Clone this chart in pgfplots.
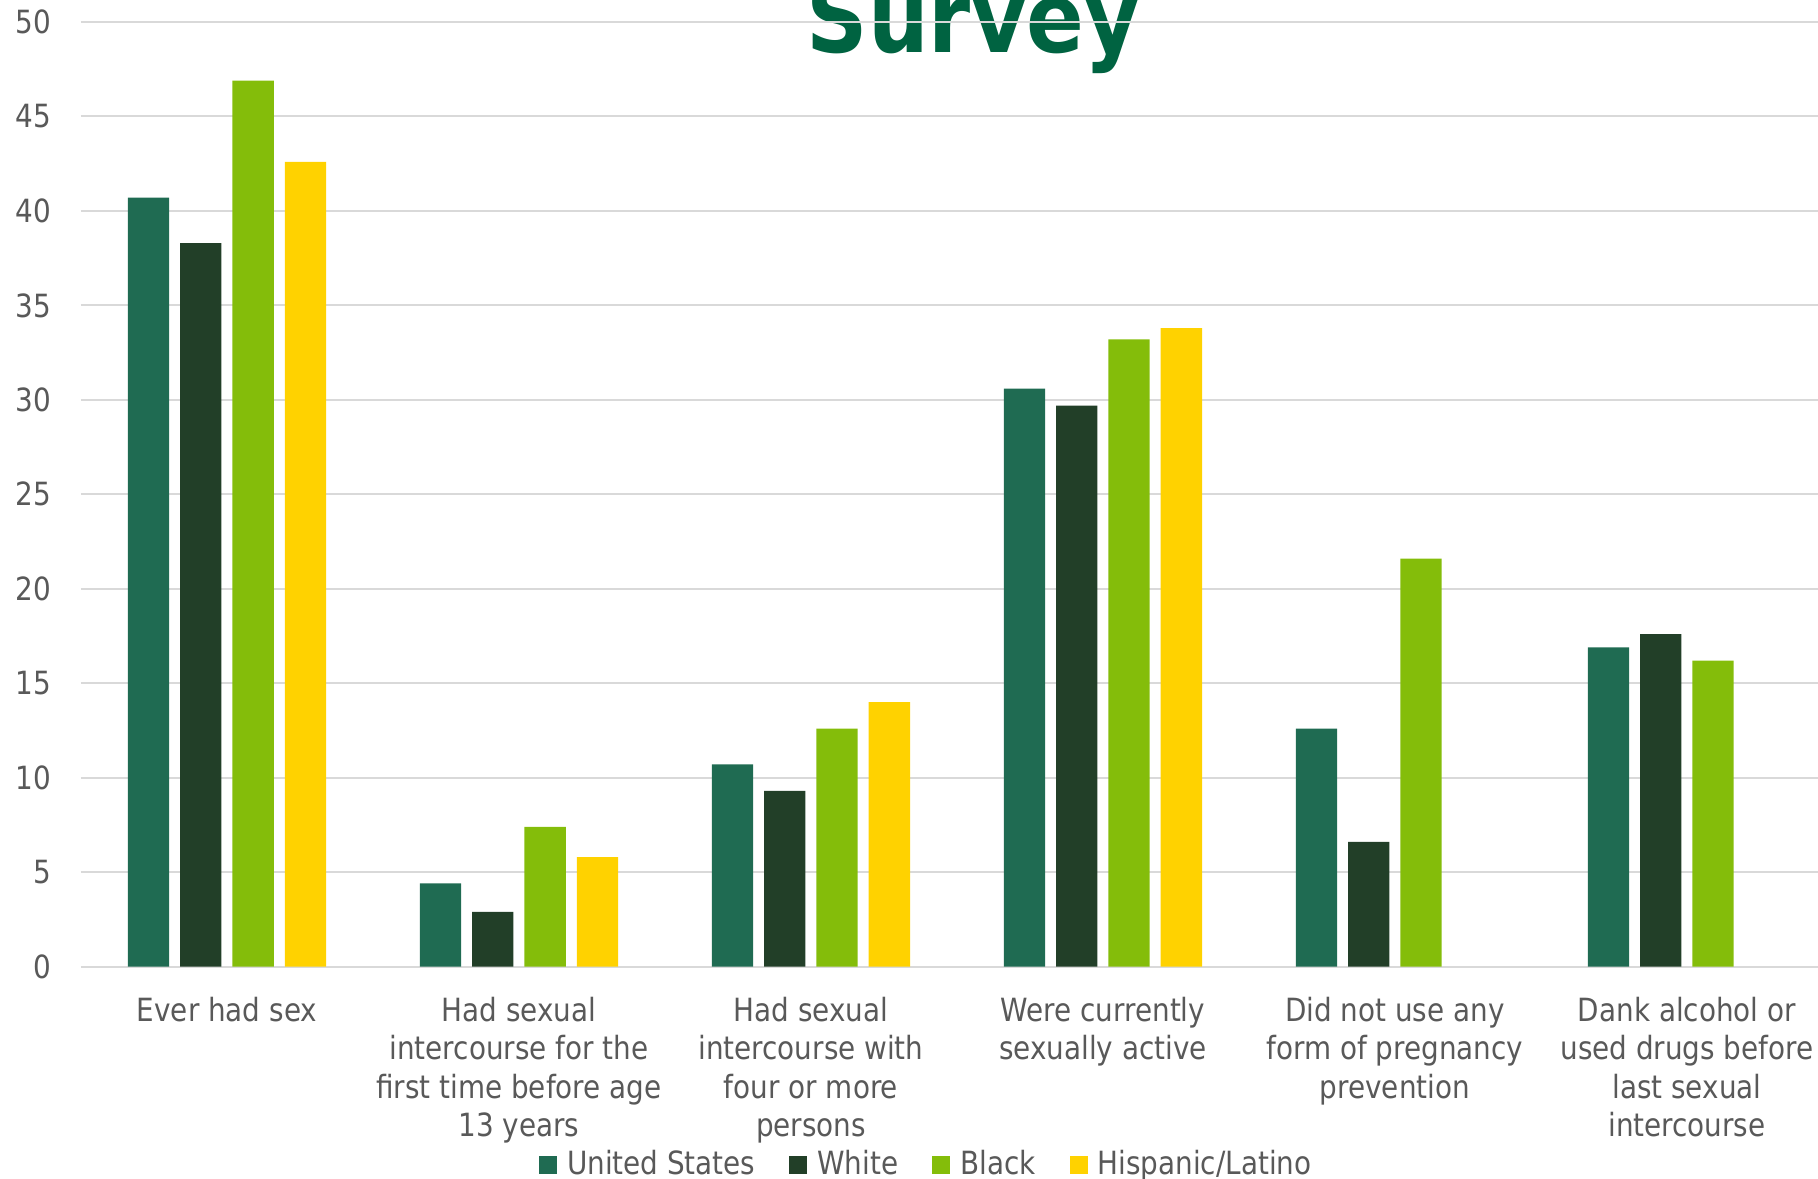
\documentclass[border=0pt]{standalone}
\usepackage{fontspec}
\setmainfont{DejaVu Sans}[FakeStretch=0.87]
\usepackage{pgfplots}
\pgfplotsset{compat=1.18}
\definecolor{cUS}{HTML}{1F6B52}
\definecolor{cWhite}{HTML}{223F28}
\definecolor{cBlack}{HTML}{84BD0A}
\definecolor{cHisp}{HTML}{FFD200}
\definecolor{titlegreen}{HTML}{006341}
\definecolor{gridgray}{HTML}{D9D9D9}
\definecolor{labelgray}{HTML}{595959}
\newcommand{\lblfont}{\fontsize{9.1pt}{10.9pt}\selectfont}
\pgfplotsset{
  sq/.style={fill=#1, draw=none,
    legend image code/.code={\fill[#1] (0cm,-0.09cm) rectangle (0.18cm,0.09cm);}},
}
\begin{document}
\begin{tikzpicture}
\node[anchor=base, text=titlegreen, inner sep=0pt,
      font=\fontsize{27.9pt}{30pt}\selectfont\bfseries] at (8.925cm,9.137cm) {Survey};
\begin{axis}[
  at={(0,0)}, anchor=south west,
  scale only axis, width=17.371cm, height=9.447cm,
  xmin=-0.5, xmax=5.449, ymin=0, ymax=50,
  ybar=0.11cm, bar width=0.413cm,
  axis line style={draw=none},
  ymajorgrids, grid style={color=gridgray, line width=0.6pt},
  ytick={0,5,...,50},
  xtick={0,1,2,3,4,5},
  xticklabels={{Ever had sex},
    {Had sexual\\intercourse for the\\first time before age\\13 years},
    {Had sexual\\intercourse with\\four or more\\persons},
    {Were currently\\sexually active},
    {Did not use any\\form of pregnancy\\prevention},
    {Dank alcohol or\\used drugs before\\last sexual\\intercourse}},
  major tick length=0pt,
  tick style={draw=none},
  /pgf/number format/assume math mode=true,
  yticklabel style={anchor=east, inner sep=0pt, xshift=-0.293cm, font=\lblfont, text=labelgray},
  xticklabel style={anchor=north, inner sep=0pt, yshift=-0.30cm, align=center, font=\lblfont, text=labelgray},
  legend columns=4,
  legend style={at={(rel axis cs:0.2637,-0.2102)}, anchor=west, draw=none, fill=none,
    inner sep=0pt, outer sep=0pt, font=\lblfont, text=labelgray,
    nodes={inner sep=0pt},
    /tikz/every odd column/.append style={column sep=0.1cm},
    /tikz/every even column/.append style={column sep=0.34cm}},
]
\addplot[sq=cUS] coordinates {(0,40.7) (1,4.4) (2,10.7) (3,30.6) (4,12.6) (5,16.9)};
\addplot[sq=cWhite] coordinates {(0,38.3) (1,2.9) (2,9.3) (3,29.7) (4,6.6) (5,17.6)};
\addplot[sq=cBlack] coordinates {(0,46.9) (1,7.4) (2,12.6) (3,33.2) (4,21.6) (5,16.2)};
\addplot[sq=cHisp] coordinates {(0,42.6) (1,5.8) (2,14.0) (3,33.8)};
\legend{United States, White, Black, Hispanic/Latino}
\end{axis}
\pgfresetboundingbox
\useasboundingbox (-0.81cm,-2.123cm) rectangle (17.371cm,9.667cm);
\end{tikzpicture}
\end{document}
